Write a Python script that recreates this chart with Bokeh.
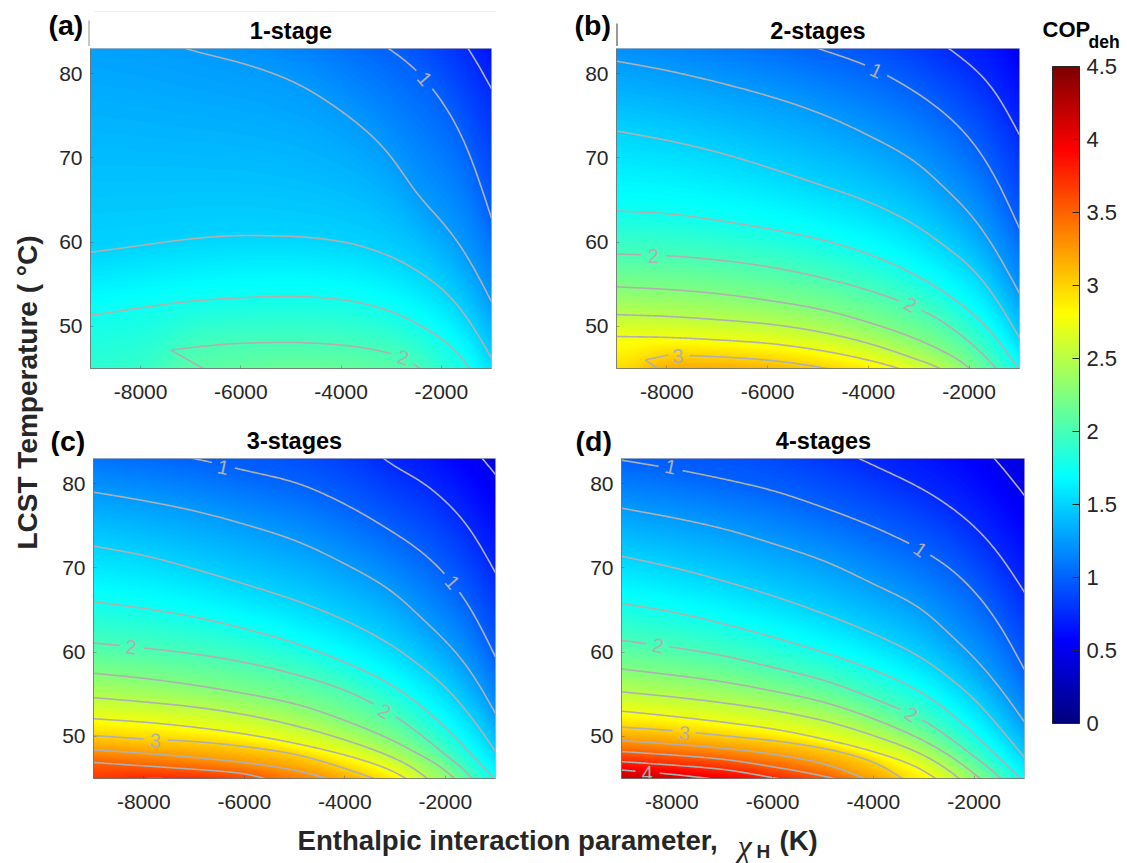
import numpy as np
from bokeh.plotting import figure
from bokeh.layouts import row, column
from bokeh.embed import file_html
from bokeh.resources import INLINE
from bokeh.core.properties import value
from bokeh.models import (LinearColorMapper, ColorBar, FixedTicker, Label)

# ---------------------------------------------------------------- data
CHI = [-9000, -8000, -7000, -6000, -5000, -4000, -3000, -2500, -2000, -1500, -1000]
X_TICKS = [-8000, -6000, -4000, -2000]
Y_TICKS = [50, 60, 70, 80]
CB_TICKS = [0, 0.5, 1, 1.5, 2, 2.5, 3, 3.5, 4, 4.5]
TITLES = ["1-stage", "2-stages", "3-stages", "4-stages"]
TAGS = ["(a)", "(b)", "(c)", "(d)"]

# LCST temperature at which each COP level is crossed, per column of CHI
A_LEVELS = [0.5, 0.75, 1, 1.25, 1.5, 1.75, 2, 2.25]
A_T = [
    [140, 135, 130, 125, 120, 115, 110, 105, 100, 95, 90],
    [120, 115, 110, 105, 100, 97, 93, 90, 87, 83.5, 78.2],
    [100, 98, 96, 93, 90, 86.5, 82.8, 80.5, 76.9, 71.7, 62.8],
    [86.5, 84.8, 82.8, 81.3, 79.2, 75.6, 70.3, 65.7, 62.6, 58.6, 52.9],
    [58.8, 59.6, 60.4, 60.8, 60.7, 60.1, 58.3, 56.7, 54.6, 51.3, 46.2],
    [51.3, 52.2, 53, 53.4, 53.6, 53.2, 51.8, 50.4, 48.6, 45.8, 40.5],
    [40, 42, 47.4, 48, 48.1, 47.8, 46.8, 45.6, 42, 38, 34],
    [36, 38, 39.5, 41.5, 43, 42.5, 41, 39, 37, 35, 30],
]
B_LEVELS = [0.5, 0.75, 1, 1.25, 1.5, 1.75, 2, 2.25, 2.5, 2.75, 3, 3.25, 3.5]
B_T = [
    [130, 125, 120, 115, 110, 105, 100, 97, 94, 90, 85],
    [102, 100, 98, 95, 92, 89, 85.5, 83.4, 81.2, 78.2, 72.7],
    [90, 88.5, 87, 85, 83, 80.9, 77.6, 75.4, 72.5, 68.1, 61.6],
    [81.5, 80.4, 79, 77.4, 75.4, 72.7, 69.3, 66.5, 63.6, 59.4, 53.9],
    [73.2, 72.1, 70.7, 68.9, 66.9, 64.8, 61.8, 59.6, 57.3, 53.7, 48.6],
    [63.7, 63.4, 62.6, 61.6, 60.4, 58.6, 55.9, 54.1, 51.9, 49, 44.8],
    [58.6, 58.4, 57.9, 57.1, 55.9, 54.3, 52.1, 50.5, 48.2, 45.4, 41],
    [54.7, 54.4, 53.9, 53.1, 52.1, 50.5, 48.4, 47, 45.3, 41.5, 38],
    [51.4, 51.2, 50.8, 50.3, 49.4, 48, 46, 44.9, 42.5, 39, 36],
    [48.8, 48.7, 48.4, 48, 47.2, 46, 44.2, 42.5, 40, 37, 34],
    [44, 46.6, 46.4, 46, 45.2, 44, 42, 40.5, 38.5, 35.5, 32],
    [42, 44.2, 44.3, 44, 43.5, 42.5, 40.5, 39, 37, 34, 30],
    [38, 40, 40, 39.5, 39, 38, 36, 35, 33, 30, 27],
]
C_LEVELS = [0.25, 0.5, 0.75, 1, 1.25, 1.5, 1.75, 2, 2.25, 2.5, 2.75, 3, 3.25, 3.5, 3.75, 4]
C_T = [
    [125, 122, 120, 118, 115, 112, 108, 105, 102, 100, 98],
    [109, 107, 105, 103, 100, 96, 92.5, 90, 87.5, 84.7, 81.1],
    [98, 96, 94, 92, 89.5, 86.5, 82, 80.4, 78, 74.7, 69.4],
    [85, 84, 83, 81.6, 80.2, 77.6, 74.1, 72.1, 69.3, 65.4, 59.4],
    [79, 78, 76.8, 75.2, 73.3, 70.5, 67, 64.2, 61.4, 57.9, 52.7],
    [72.6, 71.5, 69.9, 68.1, 66.2, 63.8, 60.6, 58.4, 55.9, 52.5, 48.2],
    [66, 65.2, 64.2, 62.8, 61.1, 58.8, 55.9, 53.7, 51.1, 48, 44.8],
    [61.1, 60.5, 59.8, 58.8, 57.4, 55.5, 52.4, 50.3, 47.8, 45.5, 41],
    [57.5, 56.9, 56.1, 55.1, 53.9, 51.9, 49.4, 47.8, 46.1, 43, 39],
    [54.6, 54.1, 53.5, 52.6, 51.3, 49.6, 47.4, 45.8, 43, 40.5, 37],
    [52.1, 51.7, 51.1, 50.3, 49.2, 47.8, 45.8, 43.9, 41.5, 39, 35.5],
    [50.1, 49.7, 49.4, 48.8, 47.9, 46.2, 44, 42.5, 40.5, 38, 34],
    [48.4, 48, 47.5, 46.9, 46, 44.4, 42.5, 41, 39, 36.5, 33],
    [46.9, 46.5, 46.1, 45.6, 44, 43, 41, 40, 38, 35, 31],
    [44.3, 45, 44.9, 44, 43, 41.5, 39.5, 38.5, 36.5, 33.5, 30],
    [43, 43.6, 43.4, 42.5, 41.5, 40, 38, 37, 35, 32, 29],
]
D_LEVELS = [0.25, 0.5, 0.75, 1, 1.25, 1.5, 1.75, 2, 2.25, 2.5, 2.75, 3, 3.25, 3.5, 3.75, 4, 4.25]
D_T = [
    [125, 122, 120, 118, 115, 112, 108, 105, 102, 98, 95],
    [103.5, 102, 100.5, 98.5, 96, 93.5, 90, 88, 85.5, 82.4, 78.6],
    [94, 92, 90, 88, 85, 82.2, 79.3, 77.4, 75, 71.7, 67.1],
    [82.8, 81.8, 80.6, 79.2, 77.2, 74.9, 72, 70.1, 67.3, 63.4, 57.9],
    [77.1, 76, 74.7, 72.9, 70.9, 68.1, 65, 62.2, 59.4, 55.9, 51.7],
    [71.4, 70.1, 68.5, 66.7, 64.6, 62.2, 59.2, 57, 54.5, 51.1, 47.5],
    [65.8, 64.8, 63.4, 61.8, 60, 57.9, 55.1, 52.9, 50.3, 47.4, 44.6],
    [61.4, 60.6, 59.6, 58.2, 56.7, 54.5, 51.9, 49.9, 47.6, 45.3, 42],
    [58, 57.3, 56.5, 55.4, 54.1, 52.1, 49.5, 47.8, 45.6, 43, 39.5],
    [55.3, 54.7, 54, 53.1, 51.9, 50.1, 47.8, 46, 43.5, 41, 37.5],
    [53, 52.4, 51.7, 50.9, 49.7, 48.2, 46, 43.8, 41.5, 39, 35.5],
    [51.1, 50.7, 50.1, 49.5, 48.6, 47, 43.4, 42, 40, 37.5, 34],
    [49.5, 49.1, 48.6, 47.9, 46.8, 44.6, 42.5, 41, 39, 36.5, 33],
    [48.2, 47.8, 47.3, 46.4, 45.3, 43.8, 41.5, 40, 38, 35, 31.5],
    [47, 46.6, 46.1, 45.1, 44, 42.8, 40.5, 39, 37, 34, 30.5],
    [46, 45.5, 44.8, 44, 43, 41.8, 39.5, 38, 36, 33, 29.5],
    [44.8, 44.3, 43.8, 43, 42, 41, 38.5, 37, 35, 32, 28.5],
]

# contour labels: level, chi, T, angle in degrees
A_LABELS = [(1, -2331, 79.4, -50), (2, -2763, 46.3, -15)]
B_LABELS = [(1, -3846, 80.4, -25), (2, -8267, 58.4, 0), (2, -3163, 52.6, -30), (3, -7785, 46.5, 0)]
C_LABELS = [(1, -6422, 81.95, -12), (1, -1857, 68.3, -50), (2, -8249, 60.6, -5), (2, -3206, 53, -30), (3, -7771, 49.5, -3)]
D_LABELS = [(1, -8022, 82, -12), (1, -3069, 72.2, -35), (2, -8274, 60.8, -12), (2, -3249, 52.6, -33), (3, -7756, 50.4, -6), (4, -8490, 45.7, 0)]

# closed tips of contours: level, the curve is drawn right of chi_from, then this branch
A_TIPS = [(2, -6700, [-6700, -7400, -6750], [47.7, 47.2, 45])]
B_TIPS = [(3, -7600, [-7965, -8430, -8180], [46.6, 46, 45])]
C_TIPS = []
D_TIPS = []

# ---------------------------------------------------------------- helpers
FONT = "Liberation Sans"
INK = "#262626"
LINE = "#b0b0b0"
X0, X1, Y0, Y1 = -9000, -1000, 45, 83


def jet(n=256):
    out = []
    for i in range(n):
        t = i / (n - 1)
        r = np.clip(min(4 * t - 1.5, -4 * t + 4.5), 0, 1)
        g = np.clip(min(4 * t - 0.5, -4 * t + 3.5), 0, 1)
        b = np.clip(min(4 * t + 0.5, -4 * t + 2.5), 0, 1)
        out.append("#%02x%02x%02x" % (int(r * 255), int(g * 255), int(b * 255)))
    return out


mapper = LinearColorMapper(palette=jet(), low=0, high=4.5)


def hermite(xs, ys, q):
    """Shape-preserving cubic through the read points, lightly evened out."""
    xs = np.asarray(xs, float)
    ys = np.asarray(ys, float)
    h = np.diff(xs)
    s = np.diff(ys) / h
    m = np.zeros_like(ys)
    for k in range(1, len(ys) - 1):
        if s[k - 1] * s[k] > 0:
            w1, w2 = 2 * h[k] + h[k - 1], h[k] + 2 * h[k - 1]
            m[k] = (w1 + w2) / (w1 / s[k - 1] + w2 / s[k])
    m[0], m[-1] = s[0], s[-1]
    i = np.clip(np.searchsorted(xs, q) - 1, 0, len(h) - 1)
    u = (q - xs[i]) / h[i]
    v = ((2 * u**3 - 3 * u**2 + 1) * ys[i] + (u**3 - 2 * u**2 + u) * h[i] * m[i]
         + (-2 * u**3 + 3 * u**2) * ys[i + 1] + (u**3 - u**2) * h[i] * m[i + 1])
    # even out with a short kernel, extending each end along its own slope
    n = 36
    sigma = 11.0
    kern = np.exp(-0.5 * (np.arange(-n, n + 1) / sigma) ** 2)
    kern /= kern.sum()
    lo = v[0] - (v[1] - v[0]) * np.arange(n, 0, -1)
    hi = v[-1] + (v[-1] - v[-2]) * np.arange(1, n + 1)
    return np.convolve(np.concatenate([lo, v, hi]), kern, mode="valid")


def panel(levels, table, labels, tips, w, h, left, right, top, bottom, frame_px):
    px_x = frame_px / 8000.0
    px_y = (h - top - bottom) / 38.0
    p = figure(width=w, height=h, x_range=(X0, X1), y_range=(Y0, Y1), output_backend="svg",
               toolbar_location=None, min_border_left=left, min_border_right=right,
               min_border_top=top, min_border_bottom=bottom)
    p.grid.visible = False
    p.outline_line_color = "#808080"
    p.outline_line_alpha = 0.55

    qx = np.linspace(X0, X1, int(frame_px))
    qy = np.linspace(Y0, Y1, h - top - bottom)
    curves = np.array([hermite(CHI, r, qx) for r in table])
    lv = np.array(levels, float)
    Z = np.zeros((len(qy), len(qx)))
    for j in range(len(qx)):
        t = np.minimum.accumulate(curves[:, j])
        Z[:, j] = np.interp(qy, t[::-1] + np.arange(len(t)) * 1e-6, lv[::-1])
    p.image(image=[Z], x=X0, y=Y0, dw=X1 - X0, dh=Y1 - Y0, color_mapper=mapper)

    xs, ys = [], []
    for lev, T in zip(levels, curves):
        keep = np.ones_like(qx, bool)
        for l, cx, cy, _ in labels:
            if l == lev:
                keep &= np.hypot((qx - cx) * px_x, (T - cy) * px_y) > 11.5
        for l, start, bx, by in tips:
            if l == lev:
                keep &= qx >= start
                xs.append(bx)
                ys.append(by)
        idx = np.flatnonzero(keep)
        if len(idx):
            for seg in np.split(idx, np.flatnonzero(np.diff(idx) > 1) + 1):
                xs.append(qx[seg].tolist())
                ys.append(T[seg].tolist())
    p.multi_line(xs, ys, line_color=LINE, line_width=1.6)
    p.text(x=[l[1] for l in labels], y=[l[2] for l in labels], text=[str(l[0]) for l in labels],
           angle=[l[3] for l in labels], angle_units="deg", text_color=LINE, text_align="center",
           text_baseline="middle", text_font=value(FONT), text_font_size="20px")

    p.xaxis.ticker = FixedTicker(ticks=X_TICKS)
    p.yaxis.ticker = FixedTicker(ticks=Y_TICKS)
    p.xaxis.major_label_overrides = {t: str(t) for t in X_TICKS}
    p.yaxis.major_label_overrides = {t: str(t) for t in Y_TICKS}
    for ax in (p.xaxis[0], p.yaxis[0]):
        ax.major_label_text_font = FONT
        ax.major_label_text_font_size = "21px"
        ax.major_label_text_color = INK
        ax.axis_line_color = "#404040"
        ax.axis_line_alpha = 0.5
        ax.major_tick_in = 3
        ax.major_tick_out = 0
        ax.minor_tick_in = 0
        ax.minor_tick_out = 0
        ax.major_tick_line_color = "#404040"
        ax.major_tick_line_alpha = 0.35
    p.xaxis.major_label_standoff = 16
    p.yaxis.major_label_standoff = 8
    p.yaxis.major_label_orientation = "horizontal"
    return p


def blank(w, h):
    p = figure(width=w, height=h, x_range=(0, w), y_range=(h, 0), output_backend="svg",
               toolbar_location=None, min_border=0)
    p.axis.visible = False
    p.grid.visible = False
    p.outline_line_color = None
    return p


def tx(p, x, y, text, size, bold=True, color=INK, angle=0, align="left", font=FONT, italic=False):
    style = "bold" if bold else ("italic" if italic else "normal")
    p.add_layout(Label(x=x, y=y, text=text, text_font=font, text_font_size=size, text_font_style=style,
                       text_color=color, angle=angle, angle_units="deg", text_align=align,
                       text_baseline="middle"))


def head(w, h, title, title_x, title_y, tag, tag_x, tag_y):
    p = blank(w, h)
    tx(p, title_x, title_y, title, "23.5px", color="#000000", align="center")
    tx(p, tag_x, tag_y, tag, "28.5px", color="#000000")
    return p


# ---------------------------------------------------------------- panels
pa = panel(A_LEVELS, A_T, A_LABELS, A_TIPS, 507, 372, 44, 62, 2, 50, 401)
pb = panel(B_LEVELS, B_T, B_LABELS, B_TIPS, 477, 372, 63, 11, 2, 50, 403)
pc = panel(C_LEVELS, C_T, C_LABELS, C_TIPS, 512, 356, 47, 63, 2, 34, 402)
pd = panel(D_LEVELS, D_T, D_LABELS, D_TIPS, 472, 356, 63, 6, 2, 34, 403)

ha = head(507, 46, TITLES[0], 244.5, 30, TAGS[0], 2, 24)
hb = head(477, 46, TITLES[1], 264.5, 30, TAGS[1], 21, 24)
hc = head(512, 38, TITLES[2], 248, 22, TAGS[2], 4, 22)
hd = head(472, 38, TITLES[3], 265, 22, TAGS[3], 17, 22)

# the thin stray rules above panels (a) and (b)
ha.segment(x0=[42.5, 48], y0=[20, 11], x1=[42.5, 449], y1=[46, 11], line_color=["#909090", "#eeeeee"], line_width=1)
hb.segment(x0=[63.5], y0=[23], x1=[63.5], y1=[46], line_color="#303030", line_width=1)

# ---------------------------------------------------------------- shared labels
left = blank(46, 863)
tx(left, 27, 392, "LCST Temperature ( °C)", "28px", angle=90, align="center")

bottom = blank(984, 51)
tx(bottom, 251, 28, "Enthalpic interaction parameter,", "27.6px")
tx(bottom, 691, 33, "χ", "32px", bold=False, italic=True, font="Liberation Serif")
tx(bottom, 710, 39, "H", "19px")
tx(bottom, 733, 28, "(K)", "27.6px")

cbf = blank(97, 863)
tx(cbf, 12, 29, "COP", "22px", color="#000000")
tx(cbf, 58, 41, "deh", "17.5px", color="#000000")
cb = ColorBar(color_mapper=mapper, location=(22, 140), width=27, height=657, padding=0, margin=0,
              ticker=FixedTicker(ticks=CB_TICKS),
              major_label_overrides={t: str(t) for t in CB_TICKS},
              major_label_text_font=FONT, major_label_text_font_size="22px",
              major_label_text_color=INK, label_standoff=7,
              major_tick_in=7, major_tick_out=0, major_tick_line_color=INK, major_tick_line_width=1.2,
              minor_tick_in=0, minor_tick_out=0,
              bar_line_color=INK, bar_line_width=1)
cbf.add_layout(cb, "center")

grid = column(row(ha, hb, spacing=0), row(pa, pb, spacing=0), row(hc, hd, spacing=0), row(pc, pd, spacing=0),
              bottom, spacing=0)
page = row(left, grid, cbf, spacing=0)
open("out.html", "w").write(file_html(page, INLINE))
